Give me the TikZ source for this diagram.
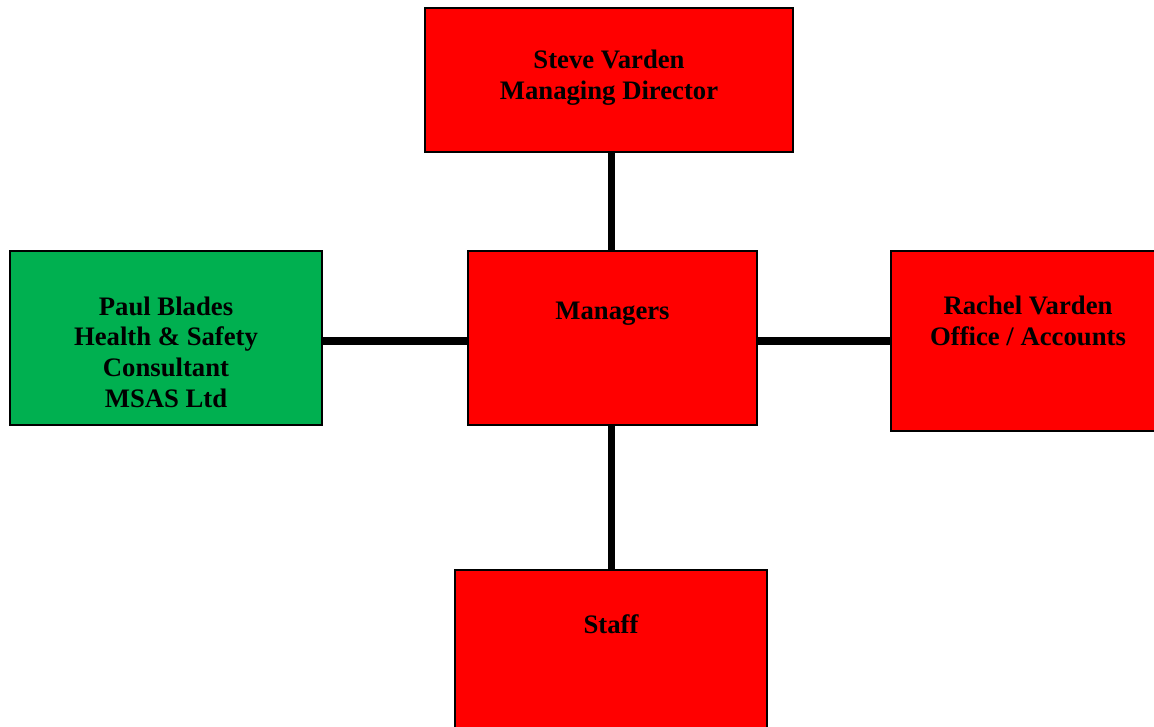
\documentclass[tikz,border=0pt]{standalone}
\usepackage{fontspec}
\setmainfont{Liberation Serif}
\definecolor{boxred}{HTML}{FF0000}
\definecolor{boxgreen}{HTML}{00B050}
\begin{document}
\begin{tikzpicture}[x=1pt,y=1pt,
  box/.style={draw=black, line width=1.5pt, rectangle, inner sep=0pt},
  txt/.style={align=center, font=\fontsize{26.7}{30.7}\selectfont\bfseries, inner sep=0pt},
  conn/.style={line width=7.5pt, black}]
\useasboundingbox (0,0) rectangle (1154,-726);
\clip (0,0) rectangle (1154,-726);
% boxes
\node[box, fill=boxred, minimum width=368, minimum height=144] (md) at (609,-80) {};
\node[box, fill=boxred, minimum width=289, minimum height=174] (mgr) at (612.5,-338) {};
\node[box, fill=boxgreen, minimum width=312, minimum height=174] (pb) at (166,-338) {};
\node[box, fill=boxred, minimum width=270, minimum height=180] (rv) at (1026,-341) {};
\node[box, fill=boxred, minimum width=312, minimum height=190] (st) at (611,-665) {};
% texts
\node[txt] (mdt) at (609,-78) {Steve Varden\\Managing Director};
\node[txt] (mgrt) at (612.5,-314) {Managers};
\node[txt] (pbt) at (166,-352) {Paul Blades\\Health \& Safety\\Consultant\\MSAS Ltd};
\node[txt] (rvt) at (1028,-321) {Rachel Varden\\Office / Accounts};
\node[txt] (stt) at (611,-624) {Staff};
% connectors
\draw[conn] (md.south -| mgr.north) ++(-1,0) coordinate (c1) -- (c1 |- mgr.north);
\draw[conn] (mgr.south) ++(-1,0) coordinate (c2) -- (c2 |- st.north);
\draw[conn] (pb.east) ++(0,-3) coordinate (c3) -- (c3 -| mgr.west);
\draw[conn] (mgr.east) ++(0,-3) coordinate (c4) -- (c4 -| rv.west);
\end{tikzpicture}
\end{document}
